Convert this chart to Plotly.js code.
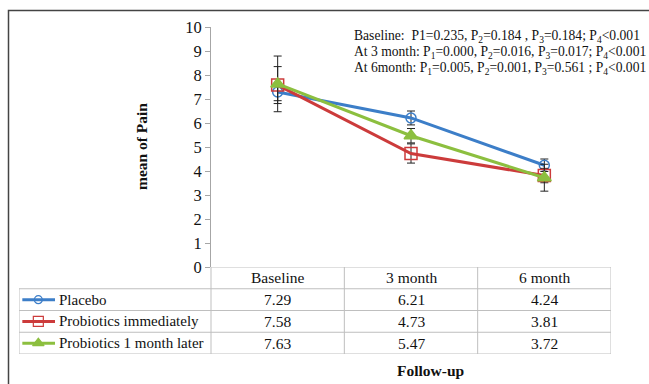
<!DOCTYPE html>
<html>
<head>
<meta charset="utf-8">
<script src="https://cdn.plot.ly/plotly-3.0.1.min.js"></script>
<style>html,body{margin:0;padding:0;background:#fff;}#chart{width:649px;height:384px;}</style>
</head>
<body>
<div id="chart"></div>
<script>
// ---- data ----
const categories = ["Baseline", "3 month", "6 month"];
const seriesNames = ["Placebo", "Probiotics immediately", "Probiotics 1 month later"];
const placebo = [7.29, 6.21, 4.24];
const probImmediate = [7.58, 4.73, 3.81];
const probLater = [7.63, 5.47, 3.72];
const placeboErr = [0.36, 0.29, 0.26];
const probImmediateErr = [0.77, 0.40, 0.30];
const probLaterErr = [1.16, 0.30, 0.56];
const yTicks = [0, 1, 2, 3, 4, 5, 6, 7, 8, 9, 10];
const pLines = [
  "Baseline:  P1=0.235, P<sub>2</sub>=0.184 , P<sub>3</sub>=0.184; P<sub>4</sub>&lt;0.001",
  "At 3 month: P<sub>1</sub>=0.000, P<sub>2</sub>=0.016, P<sub>3</sub>=0.017; P<sub>4</sub>&lt;0.001",
  "At 6month: P<sub>1</sub>=0.005, P<sub>2</sub>=0.001, P<sub>3</sub>=0.561 ; P<sub>4</sub>&lt;0.001"
];

// ---- styles ----
const colors = ["#3C7EC8", "#CC3B3B", "#8CBF3F"];
const symbols = ["circle-open", "square-open", "triangle-up"];
const msizes = [10, 12, 12];
const FONT = "'Liberation Serif', 'Times New Roman', serif";
const W = 649, H = 384;
const L = 19, R = 38, T = 27, B = 30;
const pw = W - L - R, ph = H - T - B;
const px = x => (x - L) / pw;          // pixel x -> paper
const py = y => (H - B - y) / ph;      // pixel y -> paper
const tableTop = 267;
const legendLeft = -0.5 - (211 - 19) / 133.33;

const values = [placebo, probImmediate, probLater];
const errs = [placeboErr, probImmediateErr, probLaterErr];
const xIdx = categories.map((c, i) => i);

const traces = [];
values.forEach((v, s) => {
  traces.push({
    type: "scatter", mode: "lines+markers", x: xIdx, y: v, name: seriesNames[s],
    xaxis: "x", yaxis: "y",
    line: {color: colors[s], width: 3},
    marker: {symbol: symbols[s], size: msizes[s], color: colors[s], line: {color: colors[s], width: 1.5}},
    error_y: {type: "data", array: errs[s], visible: true, color: "#222", thickness: 1, width: 4},
    showlegend: false, hoverinfo: "skip"
  });
});
// legend samples inside table (second axis system)
values.forEach((v, s) => {
  const yc = 2.5 - s;
  traces.push({
    type: "scatter", mode: "lines", x: [legendLeft + 0.025, legendLeft + 0.27], y: [yc, yc],
    xaxis: "x2", yaxis: "y2", line: {color: colors[s], width: 3}, showlegend: false, hoverinfo: "skip"
  });
  traces.push({
    type: "scatter", mode: "markers", x: [legendLeft + 0.145], y: [yc],
    xaxis: "x2", yaxis: "y2",
    marker: {symbol: symbols[s], size: msizes[s] - 2, color: colors[s], line: {color: colors[s], width: 1.2}},
    showlegend: false, hoverinfo: "skip"
  });
});

const gridColor = "#BFBFBF";
const shapes = [];
// table grid
[-0.5, 0.5, 1.5, 2.5].forEach(x => shapes.push({type: "line", xref: "x2", yref: "y2", x0: x, x1: x, y0: 0, y1: 4, line: {color: gridColor, width: 1}}));
shapes.push({type: "line", xref: "x2", yref: "y2", x0: legendLeft, x1: legendLeft, y0: 0, y1: 3, line: {color: gridColor, width: 1}});
[0, 1, 2, 3].forEach(y => shapes.push({type: "line", xref: "x2", yref: "y2", x0: legendLeft, x1: 2.5, y0: y, y1: y, line: {color: gridColor, width: 1}}));
shapes.push({type: "line", xref: "x2", yref: "y2", x0: -0.5, x1: 2.5, y0: 4, y1: 4, line: {color: gridColor, width: 1}});
// outer frame
shapes.push({type: "path", xref: "paper", yref: "paper",
  path: `M ${px(8.5)},${py(400)} L ${px(8.5)},${py(10.5)} L ${px(660)},${py(10.5)}`,
  line: {color: "#444", width: 1.5}});

const annotations = [];
const tfont = {family: FONT, size: 15.5, color: "#111"};
// header
categories.forEach((c, i) => annotations.push({xref: "x2", yref: "y2", x: i, y: 3.5, xanchor: "center", yanchor: "middle", text: c, showarrow: false, font: tfont}));
// values
values.forEach((v, s) => {
  v.forEach((val, i) => annotations.push({xref: "x2", yref: "y2", x: i, y: 2.5 - s, xanchor: "center", yanchor: "middle", text: val.toFixed(2), showarrow: false, font: tfont}));
  annotations.push({xref: "x2", yref: "y2", x: legendLeft + 0.285, y: 2.5 - s, xanchor: "left", yanchor: "middle", text: seriesNames[s], showarrow: false, font: {family: FONT, size: 15, color: "#111"}});
});
// p-values
const pY = [37, 52.5, 68];
pLines.forEach((t, k) => annotations.push({xref: "paper", yref: "paper", x: px(352), y: py(pY[k]), xanchor: "left", yanchor: "middle", text: t, showarrow: false, font: {family: FONT, size: 13.6, color: "#111"}}));
// axis titles
annotations.push({xref: "paper", yref: "paper", x: px(430), y: py(370), xanchor: "center", yanchor: "middle", text: "<b>Follow-up</b>", showarrow: false, font: {family: FONT, size: 15.5, color: "#111"}});
annotations.push({xref: "paper", yref: "paper", x: px(141), y: py(147), xanchor: "center", yanchor: "middle", text: "<b>mean of Pain</b>", textangle: -90, showarrow: false, font: {family: FONT, size: 15.5, color: "#111"}});

const yDomBottom = py(tableTop);
const layout = {
  width: W, height: H,
  margin: {l: L, r: R, t: T, b: B, pad: 0},
  paper_bgcolor: "#fff", plot_bgcolor: "rgba(0,0,0,0)",
  showlegend: false,
  xaxis: {domain: [px(211), 1], range: [-0.5, 2.5], showticklabels: false, ticks: "", showgrid: false, zeroline: false, showline: false, fixedrange: true},
  yaxis: {domain: [yDomBottom, 1], range: [0, 10], tickvals: yTicks, ticktext: yTicks.map(String), ticks: "outside", ticklen: 5, tickcolor: "#A6A6A6",
          showline: true, linecolor: "#A6A6A6", linewidth: 1, showgrid: false, zeroline: false, tickfont: {family: FONT, size: 16.5, color: "#111"}, fixedrange: true},
  xaxis2: {domain: [0, 1], range: [legendLeft, 2.5], anchor: "y2", visible: false, fixedrange: true},
  yaxis2: {domain: [0, yDomBottom], range: [0, 4], anchor: "x2", visible: false, fixedrange: true},
  shapes: shapes,
  annotations: annotations
};

Plotly.newPlot("chart", traces, layout, {displayModeBar: false, staticPlot: true});
</script>
</body>
</html>
